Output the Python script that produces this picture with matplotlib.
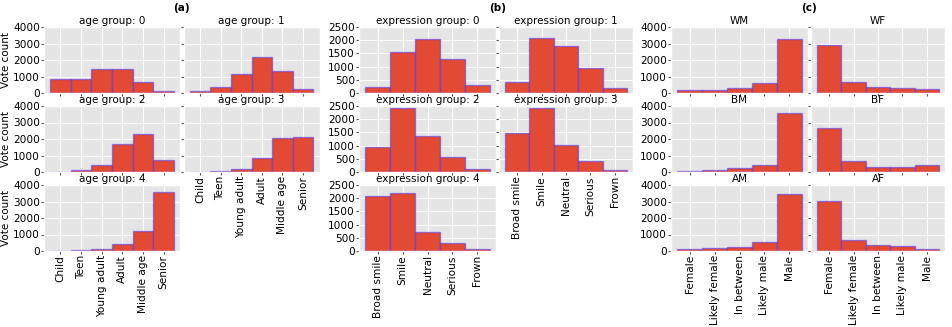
import numpy as np
import matplotlib
matplotlib.use("Agg")
import matplotlib.pyplot as plt

plt.style.use("ggplot")

# category labels
age_labels = ["Child", "Teen", "Young adult", "Adult", "Middle age", "Senior"]
expr_labels = ["Broad smile", "Smile", "Neutral", "Serious", "Frown"]
gender_labels = ["Female", "Likely female", "In between", "Likely male", "Male"]

# (a) votes per age group
age_group_0 = [870, 870, 1430, 1475, 690, 100]
age_group_1 = [100, 380, 1170, 2180, 1350, 240]
age_group_2 = [20, 110, 450, 1670, 2330, 740]
age_group_3 = [10, 60, 180, 860, 2080, 2140]
age_group_4 = [20, 60, 120, 440, 1210, 3580]

# (b) votes per expression group
expr_group_0 = [210, 1560, 2050, 1300, 290]
expr_group_1 = [430, 2080, 1770, 960, 200]
expr_group_2 = [930, 2410, 1380, 580, 130]
expr_group_3 = [1490, 2420, 1010, 420, 90]
expr_group_4 = [2080, 2210, 720, 300, 90]

# (c) votes per race/gender group
wm = [200, 160, 320, 590, 3290]
wf = [2930, 690, 380, 320, 260]
bm = [80, 130, 250, 430, 3550]
bf = [2690, 680, 320, 310, 430]
am = [100, 160, 220, 530, 3480]
af = [3050, 650, 340, 280, 140]

W, H = 952, 327
fig = plt.figure(figsize=(W / 100, H / 100), dpi=100)

bar_face = "#E24A33"
bar_edge = (0.25, 0.2, 1.0, 0.5)

row_tops = [27, 106, 185]
row_h = 66


def add_ax(x, y, w, h):
    return fig.add_axes([x / W, 1 - (y + h) / H, w / W, h / H])


def draw_group(left, widths, gap, panels, labels, ymax, yticks, letter, ylabel=None):
    lowest = {}
    for i in range(len(panels)):
        lowest[i % 2] = i // 2
    for i, (title, values) in enumerate(panels):
        r, c = i // 2, i % 2
        x0 = left if c == 0 else left + widths[0] + gap
        ax = add_ax(x0, row_tops[r], widths[c], row_h)
        x = np.arange(len(labels))
        ax.bar(x, values, width=1.0, color=bar_face, edgecolor=bar_edge, linewidth=1.0)
        ax.set_ylim(0, ymax)
        ax.set_yticks(yticks)
        ax.set_xticks(x)
        ax.set_title(title, fontsize=7.5, pad=2)
        ax.tick_params(labelsize=7.6, labelcolor="black", length=2, pad=1)
        if c == 0:
            if ylabel:
                ax.set_ylabel(ylabel, fontsize=7.5, color="black", labelpad=1)
        else:
            ax.tick_params(labelleft=False)
        if r == lowest[c]:
            ax.set_xticklabels(labels, rotation=90)
        else:
            ax.tick_params(labelbottom=False)
    fig.text((left + widths[0] + gap / 2) / W, 1 - 8 / H, letter, ha="center", va="center",
             fontsize=7.5, fontweight="bold")


draw_group(44, (136, 136), 3.5,
           [("age group: 0", age_group_0), ("age group: 1", age_group_1),
            ("age group: 2", age_group_2), ("age group: 3", age_group_3),
            ("age group: 4", age_group_4)],
           age_labels, 4000, [0, 1000, 2000, 3000, 4000], "(a)", ylabel="Vote count")

draw_group(359, (137, 134), 3,
           [("expression group: 0", expr_group_0), ("expression group: 1", expr_group_1),
            ("expression group: 2", expr_group_2), ("expression group: 3", expr_group_3),
            ("expression group: 4", expr_group_4)],
           expr_labels, 2500, [0, 500, 1000, 1500, 2000, 2500], "(b)")

draw_group(671, (137, 134), 3,
           [("WM", wm), ("WF", wf), ("BM", bm), ("BF", bf), ("AM", am), ("AF", af)],
           gender_labels, 4000, [0, 1000, 2000, 3000, 4000], "(c)")

fig.savefig("out.png", dpi=100)
